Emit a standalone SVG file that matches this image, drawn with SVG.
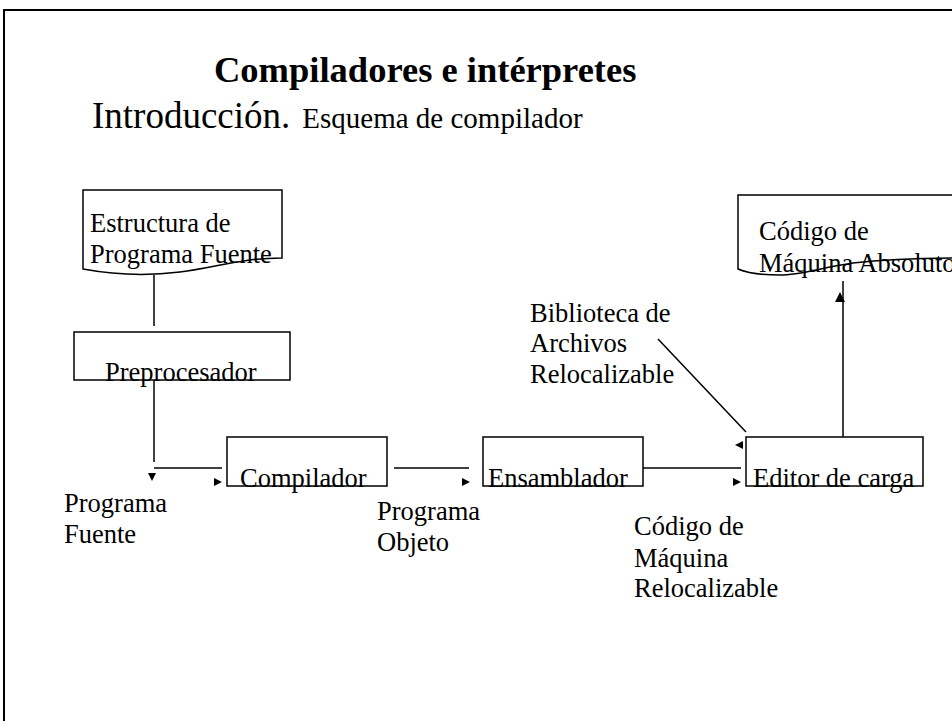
<svg xmlns="http://www.w3.org/2000/svg" width="952" height="721" viewBox="0 0 952 721">
  <style>
    .frame { fill: none; stroke: #000; stroke-width: 2; }
    .shape { fill: #fff; stroke: #000; stroke-width: 1.5; }
    .wire { fill: none; stroke: #000; stroke-width: 1.5; }
    .head { fill: #000; stroke: none; }
    .lbl { font-family: "Liberation Serif", "Times New Roman", serif; font-size: 26.5px; fill: #000; }
    .title { font-family: "Liberation Serif", "Times New Roman", serif; font-size: 36.5px; font-weight: bold; fill: #000; }
    .intro { font-family: "Liberation Serif", "Times New Roman", serif; font-size: 37px; fill: #000; }
    .sub { font-family: "Liberation Serif", "Times New Roman", serif; font-size: 29px; fill: #000; }
  </style>

  <rect x="0" y="0" width="952" height="721" fill="#fff"/>
  <!-- slide frame -->
  <path class="frame" d="M4,721 V10 H952"/>

  <!-- headings -->
  <text class="title" x="214" y="82">Compiladores e intérpretes</text>
  <text x="92" y="128"><tspan class="intro">Introducción.</tspan><tspan class="sub" dx="12">Esquema de compilador</tspan></text>

  <!-- connectors -->
  <g id="connectors">
    <line class="wire" x1="154" y1="275" x2="154" y2="326"/>
    <polygon class="head" points="150,338 158,338 154,345"/>

    <line class="wire" x1="154" y1="380" x2="154" y2="462"/>
    <line class="wire" x1="154" y1="468" x2="222" y2="468"/>
    <polygon class="head" points="148,473 156,473 152,481"/>
    <polygon class="head" points="214,478 214,486 222,482"/>

    <line class="wire" x1="394" y1="468" x2="469" y2="468"/>
    <polygon class="head" points="462,478 462,486 470,482"/>

    <line class="wire" x1="643" y1="468" x2="741" y2="468"/>
    <polygon class="head" points="733,478 733,486 741,482"/>

    <line class="wire" x1="658" y1="339" x2="746" y2="432"/>
    <polygon class="head" points="743,441 743,449 735,445"/>

    <line class="wire" x1="843" y1="437" x2="843" y2="281"/>
    <polygon class="head" points="835,302 845,302 840,292"/>
  </g>

  <!-- source program document -->
  <g id="fuente">
    <path class="shape" d="M83,190 H282 V258 C240,258 215,268 180,272 C140,277 110,274 83,269 Z"/>
    <text class="lbl" x="90" y="232">Estructura de</text>
    <text class="lbl" x="90" y="263">Programa Fuente</text>
  </g>

  <g id="preprocesador">
    <rect class="shape" x="74" y="332" width="216" height="48"/>
    <text class="lbl" x="105" y="381">Preprocesador</text>
  </g>

  <g id="compilador">
    <rect class="shape" x="227" y="437" width="160" height="49"/>
    <text class="lbl" x="240" y="487">Compilador</text>
  </g>

  <g id="ensamblador">
    <rect class="shape" x="483" y="437" width="160" height="49"/>
    <text class="lbl" x="488" y="487">Ensamblador</text>
  </g>

  <g id="editor">
    <rect class="shape" x="746" y="437" width="177" height="49"/>
    <text class="lbl" x="753" y="487">Editor de carga</text>
  </g>

  <!-- absolute machine code document (runs past the right edge) -->
  <g id="absoluto">
    <path class="shape" d="M738,195 H972 V258 C930,258 880,260 853,263 C820,268 800,275 780,275 C760,275 745,272 738,269 Z"/>
    <text class="lbl" x="759" y="240">Código de</text>
    <text class="lbl" x="759" y="272">Máquina Absoluto</text>
  </g>

  <!-- free labels -->
  <g id="lbl-fuente">
    <text class="lbl" x="64" y="512">Programa</text>
    <text class="lbl" x="64" y="543">Fuente</text>
  </g>
  <g id="lbl-objeto">
    <text class="lbl" x="377" y="520">Programa</text>
    <text class="lbl" x="377" y="551">Objeto</text>
  </g>
  <g id="lbl-biblioteca">
    <text class="lbl" x="530" y="322">Biblioteca de</text>
    <text class="lbl" x="530" y="352">Archivos</text>
    <text class="lbl" x="530" y="383">Relocalizable</text>
  </g>
  <g id="lbl-relocalizable">
    <text class="lbl" x="634" y="535">Código de</text>
    <text class="lbl" x="634" y="567">Máquina</text>
    <text class="lbl" x="634" y="597">Relocalizable</text>
  </g>
</svg>
